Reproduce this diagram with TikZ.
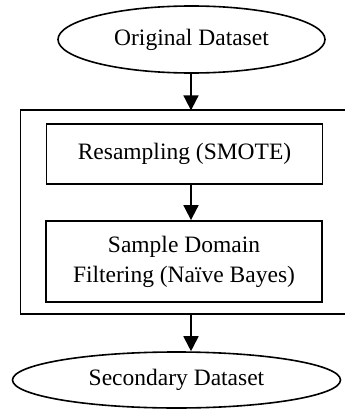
\documentclass[tikz,border=0pt]{standalone}
\usepackage{fontspec}
\setmainfont{Liberation Serif}
\usetikzlibrary{shapes.geometric,arrows.meta}
\begin{document}
\begin{tikzpicture}[x=1pt,y=-1pt,
  every node/.style={font=\fontsize{23.5}{30}\selectfont, inner sep=0pt, align=center},
  dataset/.style={ellipse, draw, line width=1.6pt},
  procbox/.style={rectangle, draw, line width=1.8pt},
  frameline/.style={line width=1.8pt},
  flow/.style={line width=1.8pt, -{Triangle[length=15pt,width=15pt]}}]
\useasboundingbox (0,0) rectangle (345,412);
% input and output datasets
\node[dataset, minimum width=267pt, minimum height=67pt] (orig) at (191.5,39.5) {Original Dataset};
\node[dataset, minimum width=328pt, minimum height=56pt] (sec) at (176.5,380) {Secondary Dataset};
% preprocessing stage: frame open on the right, running off the page
\node[rectangle, minimum width=330pt, minimum height=203.5pt] (stage) at (185.7,212.3) {};
\draw[frameline] (stage.north east) -- (stage.north west) -- (stage.south west) -- (stage.south east);
\node[procbox, minimum width=276pt, minimum height=60pt] (resamp) at (184.5,154) {Resampling (SMOTE)};
\node[procbox, minimum width=276pt, minimum height=81pt] (filt) at (184,261.5) {Sample Domain\\Filtering (Naïve Bayes)};
% connectors
\coordinate (axis) at (191,0);
\draw[flow] (orig.south -| axis) -- (stage.north -| axis);
\draw[flow] (resamp.south -| axis) -- (filt.north -| axis);
\draw[flow] (stage.south -| axis) -- (sec.north -| axis);
\end{tikzpicture}
\end{document}
